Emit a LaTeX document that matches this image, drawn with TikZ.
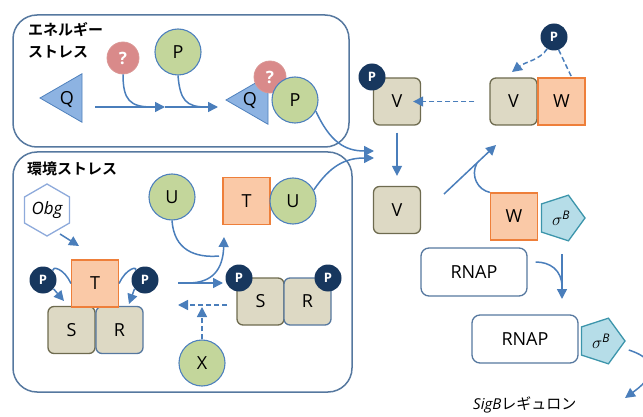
\documentclass[tikz,border=0pt]{standalone}
\usepackage{fontspec}
\setmainfont{Open Sans}
\newfontfamily\jpfont{Noto Sans CJK JP}[BoldFont={* Bold}]
\usetikzlibrary{shapes.geometric,arrows.meta}

\definecolor{arrowblue}{HTML}{4A7EBB}
\definecolor{framecol}{HTML}{56789F}
\definecolor{greenfill}{HTML}{C3D69B}
\definecolor{circleline}{HTML}{4F81BD}
\definecolor{navy}{HTML}{17375E}
\definecolor{tanfill}{HTML}{DDD9C4}
\definecolor{tanline}{HTML}{6E6B4F}
\definecolor{orangefill}{HTML}{FAC9A7}
\definecolor{orangeline}{HTML}{EE7F3A}
\definecolor{redfill}{HTML}{D98A8A}
\definecolor{redline}{HTML}{C0504D}
\definecolor{bluefill}{HTML}{8DB3E2}
\definecolor{sigfill}{HTML}{B6DDE8}
\definecolor{sigline}{HTML}{3C95AB}
\definecolor{hexline}{HTML}{8EAADB}

\tikzset{
  lbl/.style={font=\fontsize{18}{18}\selectfont},
  grn/.style={circle, draw=circleline, line width=1.1pt, fill=greenfill, minimum size=46pt, inner sep=0pt, lbl},
  qmark/.style={circle, draw=redline!60, line width=0.8pt, fill=redfill, minimum size=32pt, inner sep=0pt,
                text=white, font=\bfseries\fontsize{17}{17}\selectfont},
  phos/.style={circle, fill=navy, minimum size=27pt, inner sep=0pt, text=white,
               font=\bfseries\fontsize{13}{13}\selectfont},
  tanbox/.style={rectangle, rounded corners=6pt, draw=tanline, line width=1.3pt, fill=tanfill,
                 minimum size=47pt, inner sep=0pt, lbl},
  rbox/.style={tanbox, draw=framecol},
  orbox/.style={rectangle, draw=orangeline, line width=1.3pt, fill=orangefill, minimum size=47pt, inner sep=0pt, lbl},
  tri/.style={regular polygon, regular polygon sides=3, shape border rotate=90, draw=circleline,
              line width=0.8pt, fill=bluefill, minimum size=56pt, inner sep=0pt, lbl},
  sig/.style={regular polygon, regular polygon sides=5, shape border rotate=-90, draw=sigline,
              line width=1.3pt, fill=sigfill, minimum size=48pt, inner sep=0pt,
              font=\fontsize{17}{17}\selectfont},
  hexa/.style={regular polygon, regular polygon sides=6, shape border rotate=30, draw=hexline,
               line width=1.3pt, fill=white, minimum size=52pt, inner sep=0pt,
               font=\itshape\fontsize{17}{17}\selectfont},
  rnap/.style={rectangle, rounded corners=8pt, draw=framecol, line width=1.3pt, fill=white,
               minimum width=106pt, minimum height=48pt, inner sep=0pt, lbl},
  frame/.style={draw=framecol, line width=1.5pt, rounded corners=24pt},
  jplbl/.style={font=\jpfont\bfseries\fontsize{15}{22}\selectfont, align=left, inner sep=0pt},
  ln/.style={draw=arrowblue, line width=1.5pt},
  arr/.style={ln, -{Triangle[length=10pt,width=10pt]}},
  darr/.style={arr, dashed, dash pattern=on 5pt off 3pt},
  dln/.style={ln, dashed, dash pattern=on 5pt off 3pt},
}

\begin{document}
\begin{tikzpicture}[x=1pt,y=-1pt]
\useasboundingbox (0,0) rectangle (643,417);

% ---------- energy stress frame ----------
\draw[frame] (13,15) rectangle (349,147);
\node[jplbl, anchor=north west] (elbl) at (28,22) {エネルギー\\ストレス};

\node[tri] (q1) at (68,98) {};
\node[lbl] at (67,100) {Q};
\node[qmark] (x1) at (123,58) {?};
\node[grn] (p1) at (178,52) {P};

\coordinate (a0) at (95,107);
\coordinate (a1) at (165,107);
\coordinate (a2) at (218,107);
\draw[arr] (a0) -- (a1);
\draw[arr] (a1) -- (a2);
\draw[ln] (x1.south) .. controls (123,100) and (130,107) .. (152,107);
\draw[ln] (p1.south) .. controls (180,100) and (186,107) .. (206,107);

% Q-?-P complex
\node[tri] (q2) at (254,100) {};
\node[lbl] at (250,101) {Q};
\node[qmark] (x2) at (270,77) {?};
\node[grn] (p2) at (295,100) {P};

% ---------- environmental stress frame ----------
\draw[frame] (13,152) rectangle (352,392);
\node[jplbl, anchor=north west] (elbl2) at (27,162) {環境ストレス};

\node[hexa] (obg) at (47,210) {Obg};
\coordinate (obgtip) at (79,246);
\draw[arr] (60,234) -- (obgtip);

% T bound to S and R
\node[orbox] (t1) at (95,283.5) {T};
\node[tanbox] (s1) at (71.5,330) {S};
\node[rbox] (r1) at (119.5,330) {R};
\node[orbox] at (95,283.5) {T};
\node[phos] (pl) at (43,280) {P};
\node[phos] (pr) at (145,280) {P};
\draw[ln] (t1.west) .. controls (64,268) and (52,266) .. (pl.north east);
\draw[ln] (t1.east) .. controls (126,268) and (138,266) .. (pr.north west);
\coordinate (sl) at (64,301);
\coordinate (sr) at (129,304);
\draw[arr] (pl.-40) -- (sl);
\draw[arr] (pr.-140) -- (sr);

% release of T
\node[grn] (u1) at (172,197) {U};
\coordinate (c0) at (178,283);
\coordinate (c1) at (223,283);
\coordinate (c2) at (224,237);
\draw[arr] (c0) -- (c1);
\draw[arr] (188,283) .. controls (212,283) and (223,270) .. (c2);
\draw[ln] (u1.south) .. controls (174,250) and (195,258) .. (219,256);

% T-U complex
\node[orbox] (t2) at (246.5,201) {T};
\node[grn] (u2) at (293,201) {U};

% phosphorylated S-R
\node[tanbox] (s2) at (260.5,301.5) {S};
\node[rbox] (r2) at (307.5,301.5) {R};
\node[phos] (ps) at (239,278) {P};
\node[phos] (pq) at (328,278) {P};

\coordinate (d0) at (227,305);
\coordinate (d1) at (178,305);
\draw[darr] (d0) -- (d1);
\node[grn] (xx) at (202,363) {X};
\coordinate (d2) at (202,307);
\draw[darr] (xx.north) -- (d2);

% ---------- V / W / sigma ----------
\node[tanbox] (v1) at (397,101.5) {V};
\node[phos] (pv) at (372,77) {P};
\node[tanbox] (v2) at (513.5,101.5) {V};
\node[orbox] (w1) at (561.5,101.5) {W};
\node[phos] (pw) at (554,37) {P};
\coordinate (vtip) at (512,72);
\coordinate (wtop) at (572,78);
\draw[darr] (pw.-120) .. controls (540,60) and (525,62) .. (vtip);
\draw[dln] (pw.-70) -- (wtop);

\draw[darr] (v2.west) ++(-15,0) coordinate (e0) -- ([xshift=-8pt]v1.east);

\node[tanbox] (v3) at (397,210) {V};
\draw[arr] ([yshift=-7pt]v1.south) -- ([yshift=10pt]v3.north);

% curves feeding V
\coordinate (ft1) at (374,151);
\coordinate (ft2) at (374,158);
\draw[arr] (p2.-28) .. controls (330,142) and (345,151) .. (ft1);
\draw[arr] (u2.28) .. controls (330,166) and (345,158) .. (ft2);

% W-sigma complex and dissociation
\node[orbox] (w2) at (514,216.5) {W};
\node[sig] (sg1) at (561,218) {$\sigma^{\mathit{B}}$};
\coordinate (g0) at (444,194);
\coordinate (g1) at (496,145);
\draw[arr] (g0) -- (g1);
\draw[ln] (w2.north west) .. controls (478,190) and (470,176) .. (477,163);

% RNAP binding
\node[rnap] (rn1) at (474,272) {RNAP};
\coordinate (h0) at (562,254);
\coordinate (h1) at (562,299);
\draw[arr] (h0) -- (h1);
\draw[ln] ([xshift=8pt,yshift=10pt]rn1.east) .. controls (550,262) and (562,270) .. (562,287);

\node[rnap] (rn2) at (525,339) {RNAP};
\node[sig] (sg2) at (601,341) {$\sigma^{\mathit{B}}$};

\coordinate (k1) at (625,398);
\draw[arr] ([xshift=3pt,yshift=-9pt]sg2.east) .. controls (665,362) and (650,380) .. (k1);

\node[font=\fontsize{15}{15}\selectfont, anchor=west, inner sep=0pt] (reg) at (473,405)
  {\textit{SigB}{\jpfont レギュロン}};
\end{tikzpicture}
\end{document}
